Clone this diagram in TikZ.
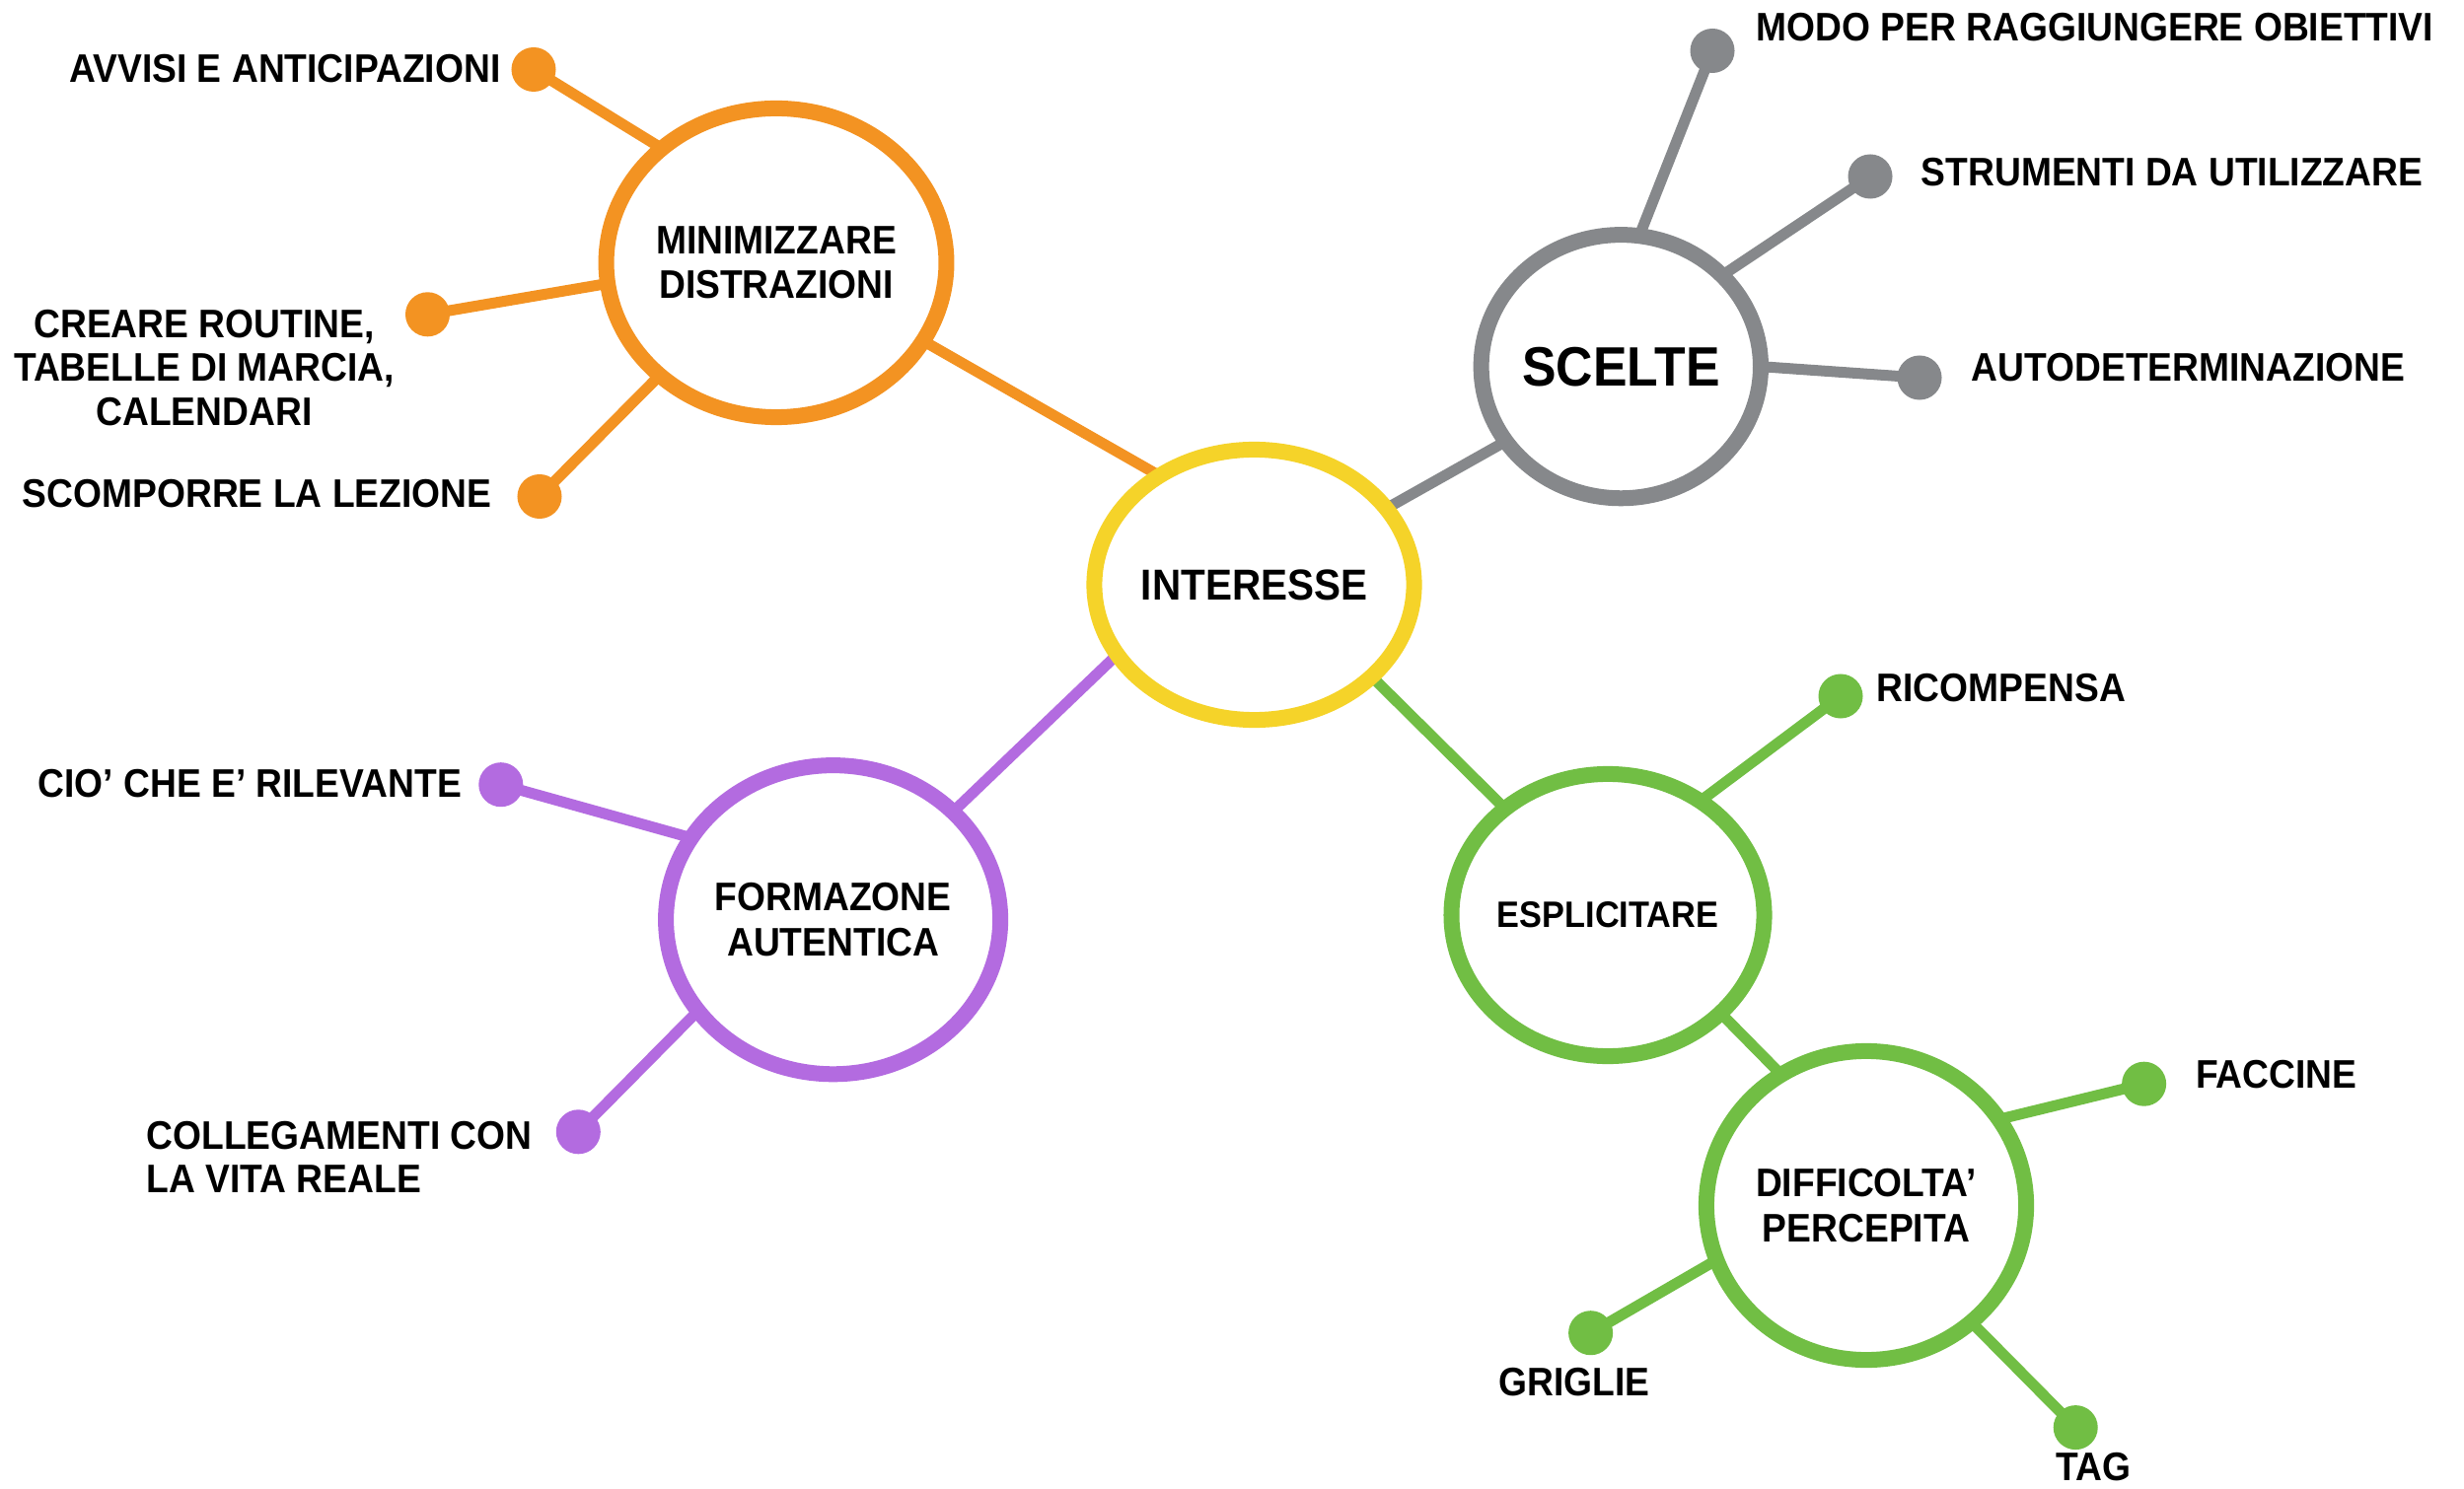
\documentclass[tikz,border=0pt]{standalone}
\usepackage{fontspec}
\setmainfont{Liberation Sans}[FakeStretch=0.92]
\usetikzlibrary{shapes.geometric,backgrounds}

\definecolor{cOrange}{HTML}{F39322}
\definecolor{cYellow}{HTML}{F5D329}
\definecolor{cGray}{HTML}{86888B}
\definecolor{cPurple}{HTML}{B36BE0}
\definecolor{cGreen}{HTML}{71BE44}

\newcommand{\lblfont}{\fontsize{11.5}{12.7}\selectfont\bfseries}
\newcommand{\ringfont}{\fontsize{11.5}{12.9}\selectfont\bfseries}
\newcommand{\hubfont}{\fontsize{12.5}{13}\selectfont\bfseries}
\newcommand{\sceltefont}{\fontsize{16}{17}\selectfont\bfseries}
\newcommand{\espfont}{\fontsize{10.6}{11}\selectfont\bfseries}

\begin{document}
\begin{tikzpicture}[x=0.01cm,y=-0.01cm,
  ring/.style={ellipse, draw=#1, line width=1.6mm, fill=white,
    inner sep=0pt, outer sep=0pt, align=center},
  bigring/.style={ring=#1, minimum width=3.24cm, minimum height=3.13cm, font=\ringfont},
  leaf/.style={circle, fill=#1, inner sep=0pt, outer sep=0pt, minimum size=0.45cm},
  link/.style={draw=#1, line width=1.1mm},
  lbl/.style={inner sep=0pt, font=\lblfont}]

\useasboundingbox (0,0) rectangle (2498,1510);

% main topics
\node[ring=cYellow, minimum width=2.94cm, minimum height=2.74cm, font=\hubfont] (int) at (1271.5,593) {INTERESSE};
\node[bigring=cOrange] (min) at (787,266.5) {MINIMIZZARE\\DISTRAZIONI};
\node[ring=cGray, minimum width=2.67cm, minimum height=2.67cm, font=\sceltefont] (sce) at (1643.3,371.7) {SCELTE};
\node[bigring=cPurple] (for) at (844.6,932.7) {FORMAZONE\\AUTENTICA};
\node[ring=cGreen, minimum width=2.94cm, minimum height=2.86cm, font=\espfont] (esp) at (1630,928) {ESPLICITARE};
\node[bigring=cGreen] (dif) at (1892,1222.5) {DIFFICOLTA’\\PERCEPITA};

% leaf dots
\node[leaf=cOrange] (d-avv) at (541,70.5) {};
\node[leaf=cOrange] (d-cre) at (433.5,318.8) {};
\node[leaf=cOrange] (d-sco) at (547,503.5) {};
\node[leaf=cGray] (d-modo) at (1736,51.5) {};
\node[leaf=cGray] (d-str) at (1896,179) {};
\node[leaf=cGray] (d-aut) at (1946,383) {};
\node[leaf=cPurple] (d-cio) at (507.8,795.7) {};
\node[leaf=cPurple] (d-col) at (586.3,1147.8) {};
\node[leaf=cGreen] (d-ric) at (1866,706) {};
\node[leaf=cGreen] (d-fac) at (2173.6,1099.2) {};
\node[leaf=cGreen] (d-gri) at (1612.6,1351.7) {};
\node[leaf=cGreen] (d-tag) at (2104.2,1447.6) {};

% leaf labels
\node[lbl, anchor=east] (t-avv) at (508,70) {AVVISI E ANTICIPAZIONI};
\node[lbl, align=center] (t-cre) at (207,373) {CREARE ROUTINE,\\TABELLE DI MARCIA,\\CALENDARI};
\node[lbl, anchor=east] (t-sco) at (499,501) {SCOMPORRE LA LEZIONE};
\node[lbl, anchor=west] (t-modo) at (1780,28) {MODO PER RAGGIUNGERE OBIETTIVI};
\node[lbl, anchor=west] (t-str) at (1947,174.5) {STRUMENTI DA UTILIZZARE};
\node[lbl, anchor=west] (t-aut) at (1998,372.5) {AUTODETERMINAZIONE};
\node[lbl, anchor=east] (t-cio) at (468.5,795) {CIO’ CHE E’ RILEVANTE};
\node[lbl, anchor=west, align=left] (t-col) at (148,1173.5) {COLLEGAMENTI CON\\LA VITA REALE};
\node[lbl, anchor=west] (t-ric) at (1902,698) {RICOMPENSA};
\node[lbl, anchor=west] (t-fac) at (2225.5,1089.5) {FACCINE};
\node[lbl] (t-gri) at (1596,1401.5) {GRIGLIE};
\node[lbl] (t-tag) at (2122.5,1488) {TAG};

% connectors, behind the rings and dots
\begin{scope}[on background layer]
  \fill[white] (0,0) rectangle (2498,1510);
  % orange branch
  \draw[link=cOrange] (min.-28) -- (int.131);
  \draw[link=cOrange] (d-avv.center) -- (min.135);
  \draw[link=cOrange] (d-cre.center) -- (min.187);
  \draw[link=cOrange] (d-sco.center) -- (min.224);
  % gray branch
  \draw[link=cGray] (int.30) -- (sce.213.5);
  \draw[link=cGray] (d-modo.center) -- (sce.82.6);
  \draw[link=cGray] (d-str.center) -- (sce.42.6);
  \draw[link=cGray] (d-aut.center) -- (sce.0);
  % purple branch
  \draw[link=cPurple] (int.207) -- (for.42);
  \draw[link=cPurple] (d-cio.center) -- (for.150.5);
  \draw[link=cPurple] (d-col.center) -- (for.214.6);
  % green branch
  \draw[link=cGreen] (int.-38) -- (esp.134);
  \draw[link=cGreen] (d-ric.center) -- (esp.51);
  \draw[link=cGreen] (esp.-41) -- (dif.123.5);
  \draw[link=cGreen] (d-fac.center) -- (dif.33.4);
  \draw[link=cGreen] (d-gri.center) -- (dif.200.9);
  \draw[link=cGreen] (d-tag.center) -- (dif.-48);
\end{scope}
\end{tikzpicture}
\end{document}
